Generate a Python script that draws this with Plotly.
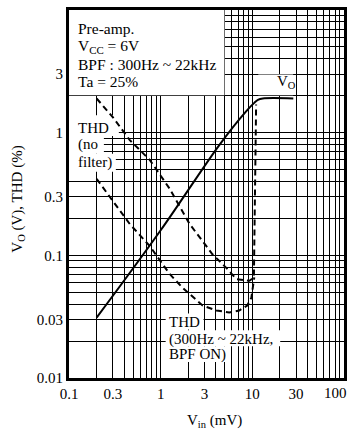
import plotly.graph_objects as go

# ---- data ----
vin_vo = [0.2, 1.0, 4.4, 8.6, 10.5, 11.5, 13.0, 28.0]
vo = [0.031, 0.16, 0.8, 1.5, 1.75, 1.85, 1.9, 1.9]

vin_thd_nf = [0.2, 0.3, 0.46, 0.76, 1.25, 1.6, 2.07, 3.67, 5.2, 6.7, 9.3, 10.4, 10.6, 10.8, 11.0]
thd_nf = [1.9, 1.34, 0.87, 0.6, 0.35, 0.25, 0.18, 0.102, 0.079, 0.064, 0.062, 0.066, 0.2, 0.8, 1.7]

vin_thd_bpf = [0.2, 0.29, 0.46, 0.76, 1.25, 1.73, 2.86, 4.06, 5.6, 7.2, 8.8, 9.75, 10.2, 10.5]
thd_bpf = [0.42, 0.29, 0.18, 0.119, 0.0706, 0.0545, 0.039, 0.0355, 0.0342, 0.0355, 0.039, 0.045, 0.055, 0.066]

x_tickvals = [0.1, 0.3, 1, 3, 10, 30]
x_ticktext = ["0.1", "0.3", "1", "3", "10", "30"]
x_last_tick = "100"
y_tickvals = [0.01, 0.03, 0.1, 0.3, 1, 3]
y_ticktext = ["0.01", "0.03", "0.1", "0.3", "1", "3"]

x_grid = [m * 10 ** e for e in range(-1, 2) for m in range(1, 10)] + [100]
y_grid = [m * 10 ** e for e in range(-2, 1) for m in range(1, 10)] + [10]

# ---- layout geometry (pixels) ----
W, H = 354, 431
L, R, T, B = 69, 345, 7, 378
XLOG = (-1.0, 2.0)
YLOG = (-2.0, 1.0)


def px2x(px):
    return (px - L) / (R - L)


def py2y(py):
    return (B - py) / (B - T)


def px2data(px):
    return 10 ** (XLOG[0] + (px - L) / (R - L) * (XLOG[1] - XLOG[0]))


def py2data(py):
    return 10 ** (YLOG[0] + (B - py) / (B - T) * (YLOG[1] - YLOG[0]))


FONT = "Liberation Serif, Times New Roman, serif"
line_style = dict(color="black", width=2)
dash_style = dict(color="black", width=2, dash="6px,4px")

fig = go.Figure()

# white-out boxes behind labels (drawn above grid, below curves)
boxes = [
    (L - 3, T - 3, 225, 93),      # condition box
    (259, 72, 294, 93),           # Vo label
    (L - 3, 113, 119, 134),       # THD
    (L - 3, 134, 104, 152),       # (no
    (L - 3, 152, 116, 170),       # filter)
    (166, 313, 204, 329),         # THD
    (166, 330, 281, 346),         # (300Hz~22kHz,
    (166, 346, 231, 362),         # BPF ON)
]
for x0, y0, x1, y1 in boxes:
    a, b = px2data(x0), px2data(x1)
    c, d = py2data(y1), py2data(y0)
    fig.add_trace(go.Scatter(x=[a, b, b, a, a], y=[c, c, d, d, c], mode="none",
                             fill="toself", fillcolor="white", hoverinfo="skip",
                             showlegend=False))

fig.add_trace(go.Scatter(x=vin_vo, y=vo, mode="lines", line=line_style,
                         line_shape="spline", showlegend=False))
fig.add_trace(go.Scatter(x=vin_thd_nf, y=thd_nf, mode="lines", line=dash_style,
                         showlegend=False))
fig.add_trace(go.Scatter(x=vin_thd_bpf, y=thd_bpf, mode="lines", line=dash_style,
                         showlegend=False))

annotations = []


def add_text(text, px, py, xanchor="left", yanchor="middle", size=15, angle=0):
    annotations.append(dict(text=text, x=px2x(px), y=py2y(py), xref="paper", yref="paper",
                            xanchor=xanchor, yanchor=yanchor, showarrow=False,
                            textangle=angle, font=dict(family=FONT, size=size, color="black")))


add_text("Pre-amp.", 76, 26, size=15.5)
add_text("V<sub>CC</sub> = 6V", 76, 44, size=15.5)
add_text("BPF : 300Hz ~ 22kHz", 76, 62, size=15.5)
add_text("Ta = 25%", 76, 79, size=15.5)
add_text("V<sub>O</sub>", 276, 80)
add_text("THD", 76, 126)
add_text("(no", 76, 143)
add_text("filter)", 76, 161)
add_text("THD", 167, 322)
add_text("(300Hz ~ 22kHz,", 167, 339)
add_text("BPF ON)", 167, 354)
add_text("V<sub>O</sub> (V), THD (%)", 18, 198, xanchor="center", angle=-90)
add_text("V<sub>in</sub> (mV)", 215, 410, xanchor="center", yanchor="top")
add_text(x_last_tick, 336, 393, xanchor="center")

axis_common = dict(type="log", showline=True, linewidth=3, linecolor="black", mirror=True,
                   ticks="", showgrid=True, gridcolor="black", gridwidth=1, zeroline=False,
                   tickfont=dict(family=FONT, size=15, color="black"), tickmode="array")

fig.update_xaxes(range=[XLOG[0] - 0.0002, XLOG[1] + 0.0002], tickvals=x_tickvals, ticktext=x_ticktext,
                 minor=dict(tickmode="array", tickvals=x_grid, showgrid=True,
                            gridcolor="black", gridwidth=1, ticks=""),
                 **axis_common)
fig.update_yaxes(range=[YLOG[0] - 0.0002, YLOG[1] + 0.0002], tickvals=y_tickvals, ticktext=y_ticktext,
                 minor=dict(tickmode="array", tickvals=y_grid, showgrid=True,
                            gridcolor="black", gridwidth=1, ticks=""),
                 **axis_common)

fig.update_layout(width=W, height=H, margin=dict(l=L, r=W - R, t=T, b=H - B),
                  paper_bgcolor="white", plot_bgcolor="white",
                  annotations=annotations,
                  font=dict(family=FONT, color="black"))

fig.write_html("out.html")
